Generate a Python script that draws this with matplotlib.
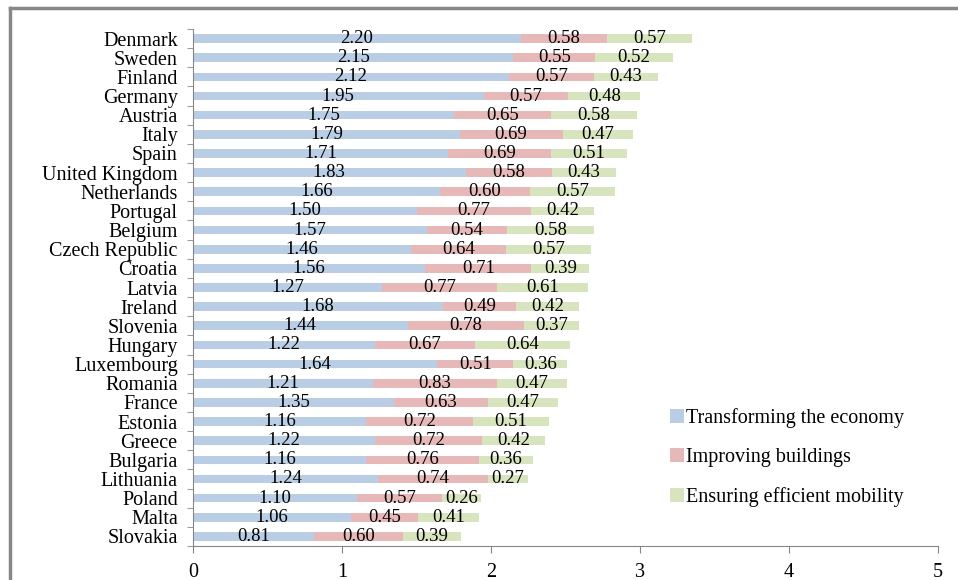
import numpy as np
import matplotlib.pyplot as plt
from matplotlib.lines import Line2D

plt.rcParams['font.family'] = ['Liberation Serif', 'DejaVu Serif']

countries = ['Denmark', 'Sweden', 'Finland', 'Germany', 'Austria', 'Italy', 'Spain',
             'United Kingdom', 'Netherlands', 'Portugal', 'Belgium', 'Czech Republic',
             'Croatia', 'Latvia', 'Ireland', 'Slovenia', 'Hungary', 'Luxembourg',
             'Romania', 'France', 'Estonia', 'Greece', 'Bulgaria', 'Lithuania',
             'Poland', 'Malta', 'Slovakia']
economy = [2.20, 2.15, 2.12, 1.95, 1.75, 1.79, 1.71, 1.83, 1.66, 1.50, 1.57, 1.46,
           1.56, 1.27, 1.68, 1.44, 1.22, 1.64, 1.21, 1.35, 1.16, 1.22, 1.16, 1.24,
           1.10, 1.06, 0.81]
buildings = [0.58, 0.55, 0.57, 0.57, 0.65, 0.69, 0.69, 0.58, 0.60, 0.77, 0.54, 0.64,
             0.71, 0.77, 0.49, 0.78, 0.67, 0.51, 0.83, 0.63, 0.72, 0.72, 0.76, 0.74,
             0.57, 0.45, 0.60]
mobility = [0.57, 0.52, 0.43, 0.48, 0.58, 0.47, 0.51, 0.43, 0.57, 0.42, 0.58, 0.57,
            0.39, 0.61, 0.42, 0.37, 0.64, 0.36, 0.47, 0.47, 0.51, 0.42, 0.36, 0.27,
            0.26, 0.41, 0.39]
series = ['Transforming the economy', 'Improving buildings', 'Ensuring efficient mobility']
colors = ['#B9CDE5', '#E6B9B8', '#D7E4BD']

fig = plt.figure(figsize=(9.58, 5.80), dpi=100)
ax = fig.add_axes([193 / 958, 1 - 546 / 580, 745 / 958, 517 / 580])

y = np.arange(len(countries))
left = np.zeros(len(countries))
for vals, name, col in zip([economy, buildings, mobility], series, colors):
    vals = np.array(vals)
    ax.barh(y, vals, left=left, height=0.45, color=col, label=name)
    for yi, l, v in zip(y, left, vals):
        ax.text(l + v / 2, yi, f'{v:.2f}', ha='center', va='center', fontsize=13.5)
    left = left + vals

ax.set_xlim(0, 5)
ax.set_ylim(len(countries) - 0.5, -0.5)
ax.set_xticks(range(6))
ax.set_yticks(y)
ax.set_yticklabels(countries, fontsize=14.5)
ax.set_yticks(np.arange(-0.5, len(countries)), minor=True)
ax.tick_params(axis='y', which='major', length=0, pad=11)
ax.tick_params(axis='y', which='minor', length=4, direction='out', color='#868686')
ax.tick_params(axis='x', length=5, direction='out', color='#868686', labelsize=14.5, pad=7)

for s in ['top', 'right']:
    ax.spines[s].set_visible(False)
for s in ['left', 'bottom']:
    ax.spines[s].set_color('#868686')

ax.legend(loc='upper left', bbox_to_anchor=(652 / 958, 1 - 390 / 580),
          bbox_transform=fig.transFigure, frameon=False, fontsize=14.5,
          handlelength=0.7, handleheight=0.7, handletextpad=0.1, labelspacing=1.0)

# outer frame along the top and left edges
fig.add_artist(Line2D([10 / 958, 10 / 958], [0, 1 - 8 / 580], transform=fig.transFigure,
                      color='#888888', lw=2.5))
fig.add_artist(Line2D([10 / 958, 1], [1 - 8 / 580, 1 - 8 / 580], transform=fig.transFigure,
                      color='#888888', lw=2.5))

fig.savefig('out.png', dpi=100)
